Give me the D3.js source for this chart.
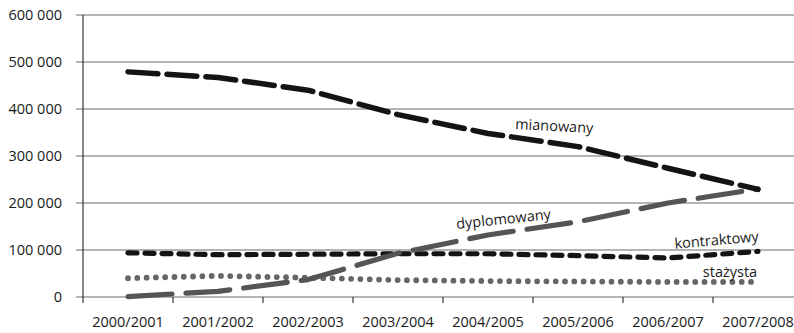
<!DOCTYPE html>
<html>
<head>
<meta charset="utf-8">
<script src="https://cdn.jsdelivr.net/npm/d3@7"></script>
<style>
body { margin: 0; background: #fff; }
svg { display: block; }
text { font-family: "Open Sans", "DejaVu Sans", sans-serif; fill: #1a1a1a; }
</style>
</head>
<body>
<svg id="chart" width="794" height="333"></svg>
<script>
const categories = ["2000/2001","2001/2002","2002/2003","2003/2004","2004/2005","2005/2006","2006/2007","2007/2008"];
const mianowany   = [479000, 467000, 440000, 388000, 348000, 320000, 274000, 229000];
const dyplomowany = [1000, 12000, 37000, 93000, 132000, 160000, 200000, 230000];
const kontraktowy = [94000, 90000, 91000, 92000, 92000, 88000, 83000, 97000];
const stazysta    = [40000, 45000, 41000, 36000, 34000, 33000, 32000, 32000];
const yTicks = [0, 100000, 200000, 300000, 400000, 500000, 600000];
const seriesNames = ["mianowany", "dyplomowany", "kontraktowy", "stażysta"];

const svg = d3.select("#chart");
const mLeft = 83, mRight = 803, mTop = 15, mBottom = 297;
const fs = 14.5;

const x = d3.scaleBand().domain(categories).range([mLeft, mRight]);
const y = d3.scaleLinear().domain([0, 600000]).range([mBottom, mTop]);
const fmt = v => d3.format(",")(v).replace(/,/g, " ");

// gridlines
svg.append("g")
  .selectAll("line").data(yTicks).join("line")
  .attr("x1", mLeft - 7).attr("x2", 794)
  .attr("y1", d => y(d)).attr("y2", d => y(d))
  .attr("stroke", "#6a6a6a").attr("stroke-width", 1.1);

// y labels
svg.append("g")
  .selectAll("text").data(yTicks).join("text")
  .attr("x", 62).attr("y", d => y(d) + 5)
  .attr("text-anchor", "end").attr("font-size", fs)
  .text(d => fmt(d));

// y axis line
svg.append("line").attr("x1", mLeft).attr("x2", mLeft).attr("y1", mTop).attr("y2", mBottom + 6)
  .attr("stroke", "#111").attr("stroke-width", 1);

// x axis ticks and labels
const gx = svg.append("g").attr("transform", `translate(0,${mBottom})`);
gx.selectAll("line").data(categories).join("line")
  .attr("x1", d => x(d) + x.bandwidth()).attr("x2", d => x(d) + x.bandwidth())
  .attr("y1", 0).attr("y2", 6).attr("stroke", "#111").attr("stroke-width", 1);
gx.selectAll("text").data(categories).join("text")
  .attr("x", d => x(d) + x.bandwidth() / 2).attr("y", 30)
  .attr("text-anchor", "middle").attr("font-size", fs)
  .text(d => d);

const line = d3.line().x((d, i) => x(categories[i]) + x.bandwidth() / 2).y(d => y(d));

const styles = [
  { data: stazysta, color: "#666", width: 5.8, dash: "0,9.3" },
  { data: kontraktowy, color: "#141414", width: 5.2, dash: "9,8" },
  { data: dyplomowany, color: "#555", width: 5.2, dash: "44,14" },
  { data: mianowany, color: "#141414", width: 5.5, dash: "30,9" }
];
styles.forEach(s => {
  svg.append("path").datum(s.data)
    .attr("d", line)
    .attr("fill", "none")
    .attr("stroke", s.color)
    .attr("stroke-width", s.width)
    .attr("stroke-linecap", "round")
    .attr("stroke-linejoin", "round")
    .attr("stroke-dasharray", s.dash);
});

// series labels
const lab = [
  { text: seriesNames[0], x: 554, y: 131, rot: 3 },
  { text: seriesNames[1], x: 504, y: 224, rot: -6 },
  { text: seriesNames[2], x: 717, y: 245, rot: -5 },
  { text: seriesNames[3], x: 730, y: 277, rot: 0 }
];
lab.forEach(l => {
  svg.append("text")
    .attr("transform", `translate(${l.x},${l.y}) rotate(${l.rot})`)
    .attr("text-anchor", "middle").attr("font-size", fs)
    .text(l.text);
});
</script>
</body>
</html>
